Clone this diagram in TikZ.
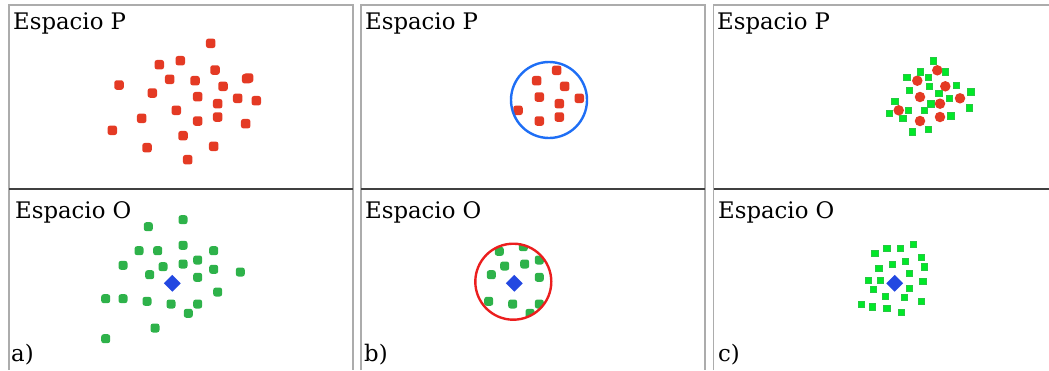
\documentclass[tikz,border=0pt]{standalone}
\usepackage{fontspec}
\setmainfont{DejaVu Serif}
\usetikzlibrary{shapes.geometric,positioning}
\definecolor{dotred}{RGB}{228,58,36}
\definecolor{dotgreen}{RGB}{46,178,74}
\definecolor{litegreen}{RGB}{0,232,40}
\definecolor{diamblue}{RGB}{35,72,225}
\definecolor{ringblue}{RGB}{30,110,245}
\definecolor{ringred}{RGB}{235,30,30}

\begin{document}
\begin{tikzpicture}[
    x=1pt, y=-1pt,
    reddot/.style = {rectangle, rounded corners=2.5pt, fill=dotred, minimum size=9.5pt, inner sep=0pt},
    greendot/.style = {rectangle, rounded corners=2.5pt, fill=dotgreen, minimum size=9pt, inner sep=0pt},
    redball/.style = {circle, fill=dotred, minimum size=10.5pt, inner sep=0pt},
    greensq/.style = {rectangle, fill=litegreen, draw=litegreen!70!gray, line width=0.3pt, minimum size=6.5pt, inner sep=0pt},
    target/.style = {diamond, fill=diamblue, minimum size=17pt, inner sep=0pt},
    ring/.style = {circle, draw=#1, line width=2.4pt, minimum size=76pt, inner sep=0pt},
    caption/.style = {anchor=base west, inner sep=0pt, font=\fontsize{22.8}{26}\selectfont}
]
    \useasboundingbox (0,0) rectangle (1049,370);

    % 1. Frames
    \draw [gray!65, line width=1.2pt] (9,370) -- (9,5) -- (353,5) -- (353,370);
    \draw [gray!65, line width=1.2pt] (361,370) -- (361,5) -- (705,5) -- (705,370);
    \draw [gray!65, line width=1.2pt] (713.5,370) -- (713.5,5) -- (1049,5);
    \draw [black!75, line width=1.2pt] (9,189) -- (353,189);
    \draw [black!75, line width=1.2pt] (361,189) -- (705,189);
    \draw [black!75, line width=1.2pt] (713.5,189) -- (1049,189);

    % 2. Labels
    \node [caption] (pa) at (13,29.5) {Espacio P};
    \node [caption] (pb) at (365,29.5) {Espacio P};
    \node [caption] (pc) at (717,29.5) {Espacio P};
    \node [caption] (oa) at (15,218.5) {Espacio O};
    \node [caption] (ob) at (365,218.5) {Espacio O};
    \node [caption] (oc) at (718,218.5) {Espacio O};
    \node [caption] (la) at (11,361) {a)};
    \node [caption] (lb) at (364,361) {b)};
    \node [caption] (lc) at (718,361) {c)};

    % 3. Panel a
    \foreach \x/\y [count=\i] in {210.7/43.3, 159.3/64.7, 180.3/60.7, 215/70, 119/85, 169.7/79.3,
        195/80.7, 223/86.3, 246.7/78.7, 152.3/93, 197.7/96.7, 217.7/103.7, 237.7/98.3,
        256.3/100.7, 176.3/110.3, 141.7/118.3, 197.7/121, 217.7/117, 245.7/123.7,
        112.3/130.3, 183/135.7, 147/147.7, 213.7/146.3, 187.7/159.7}
        \node [reddot] (ra\i) at (\x,\y) {};
    \node [reddot] (ra25) at (248.5,78) {};
    \foreach \x/\y [count=\i] in {148.3/226.7, 183/219.7, 139/250.7, 157.7/250.7, 183/245.3,
        213.7/250.7, 123/265.3, 163/266.7, 183/264, 197.7/260, 213.7/269.3, 240.3/272,
        149.7/274.7, 197.7/277.3, 105.7/298.7, 123/298.7, 147/301.3, 171/304, 197.7/304,
        217.7/292, 188.3/313.3, 155/328, 105.7/338.7}
        \node [greendot] (ga\i) at (\x,\y) {};
    \node [target] (ta) at (172.3,283.3) {};

    % 4. Panel b
    \begin{scope}
        \clip (549,100) circle (38);
        \foreach \x/\y [count=\i] in {556.7/70.3, 536.7/80.7, 564.7/86.3, 539.3/97, 559.3/103.7,
            579.3/98.3, 518/110.3, 539.3/121, 559.3/117}
            \node [reddot] (rb\i) at (\x,\y) {};
    \end{scope}
    \node [ring=ringblue] (selp) at (549,100) {};
    \begin{scope}
        \clip (513.3,281.7) circle (38);
        \foreach \x/\y [count=\i] in {499.3/251.3, 523.3/246.7, 504.7/266, 524.7/264, 539.3/260,
            491.3/274.7, 539.3/277.3, 488.7/301.3, 512.7/304, 539.3/304, 530/313.3}
            \node [greendot] (gb\i) at (\x,\y) {};
    \end{scope}
    \node [ring=ringred] (selo) at (513.3,281.7) {};
    \node [target] (tb) at (514.3,283.3) {};

    % 5. Panel c
    \foreach \x/\y [count=\i] in {937.3/70.3, 917.3/80.7, 945.3/86.3, 920/97, 940/103.7,
        960/98.3, 898.7/110.3, 920/121, 940/117}
        \node [redball] (rc\i) at (\x,\y) {};
    \foreach \x/\y [count=\i] in {933.3/60.7, 920/71.7, 945.3/71.7, 906.7/77, 928/77, 956/85,
        909.3/90.3, 929.3/86.3, 938.7/93, 970.7/91.7, 949.3/98.3, 894.7/101, 930.7/103.7,
        908/110.3, 924/110.3, 969.3/107.7, 889.3/113, 902.7/118.3, 950.7/115.7, 928/129,
        912/131.7}
        \node [greensq] (sc\i) at (\x,\y) {};
    \foreach \x/\y [count=\i] in {913.3/244, 886.7/248, 900/248, 874.7/253.3, 921.3/257.3,
        905.3/261.3, 892/264, 878.7/268, 924/266.7, 909.3/273.3, 868/280, 880/280,
        922.7/281.3, 909.3/288, 873.3/289.3, 885.3/296, 904/297.3, 921.3/301.3, 861.3/304,
        872/306.7, 886.7/308, 901.3/312}
        \node [greensq] (so\i) at (\x,\y) {};
    \node [target] (tc) at (894.7,283.3) {};

\end{tikzpicture}
\end{document}
